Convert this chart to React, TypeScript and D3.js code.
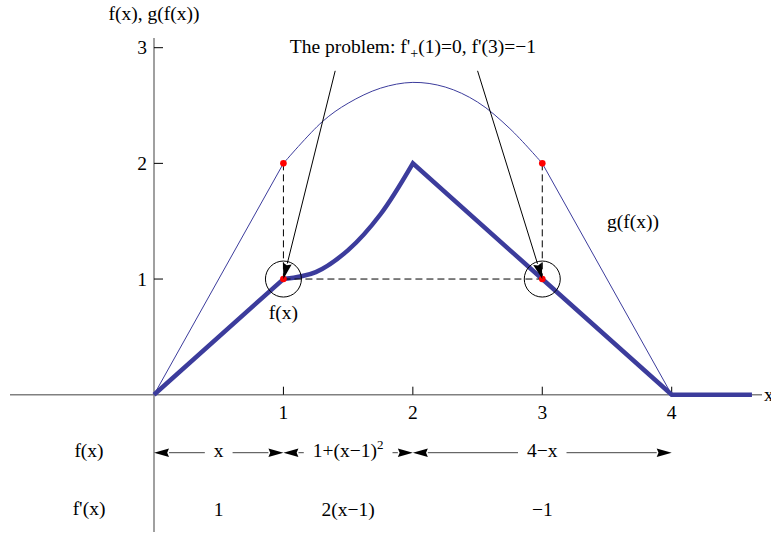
import React, { useEffect, useRef } from 'react';
import * as d3 from 'd3';

// f(x): piecewise
const fRiseX = [0, 1];
const fRiseY = [0, 1];
const fCurveX = [1, 1.25, 1.5, 1.75, 2];
const fCurveY = [1, 1.06, 1.25, 1.56, 2];
const fFallX = [2, 3, 4, 4.62];
const fFallY = [2, 1, 0, 0];

// g(f(x))
const gRiseX = [0, 1];
const gRiseY = [0, 2];
const gArcX = [1, 1.3, 1.5, 1.75, 2, 2.25, 2.5, 2.75, 3];
const gArcY = [2, 2.36, 2.52, 2.65, 2.7, 2.66, 2.53, 2.3, 2];
const gFallX = [3, 4];
const gFallY = [2, 0];

// red points and the dashed guides
const markX = [1, 1, 3, 3];
const markY = [2, 1, 2, 1];

// the two problem points and where the arrows start
const problemX = [1, 3];
const problemY = [1, 1];
const arrowFromX = [1.4, 2.5];
const arrowFromY = [2.8, 2.8];

const xTicks = [1, 2, 3, 4];
const yTicks = [1, 2, 3];

// table under the axis
const pieceBreaks = [0, 1, 2, 4];
const pieceFormula = ['x', '1+(x\u22121)', '4\u2212x'];
const pieceSup = ['', '2', ''];
const pieceDeriv = ['1', '2(x\u22121)', '\u22121'];

const W = 771, H = 534;
const FONT = '"Liberation Serif", "Times New Roman", serif';
const FS = 19.5;
const BLUE = '#3c3c9c';

const joinPaths = (parts: string[]) =>
    parts.map((p, i) => (i === 0 ? p : p.replace(/^M/, 'L'))).join('');

const App = () => {
    const ref = useRef<SVGSVGElement>(null);

    useEffect(() => {
        const svg = d3.select(ref.current);
        svg.selectAll('*').remove();

        const x = d3.scaleLinear().domain([0, 4]).range([154, 671.7]);
        const y = d3.scaleLinear().domain([0, 3]).range([394.7, 47.7]);

        const zip = (xs: number[], ys: number[]) => xs.map((v, i) => [v, ys[i]] as [number, number]);
        const lin = d3.line<[number, number]>().x(d => x(d[0])).y(d => y(d[1]));
        const smooth = d3.line<[number, number]>().x(d => x(d[0])).y(d => y(d[1])).curve(d3.curveCatmullRom);

        const txt = (g: any) => g.attr('font-family', FONT).attr('font-size', FS).attr('fill', '#000');

        // axes
        svg.append('line').attr('x1', 10).attr('x2', 762).attr('y1', y(0)).attr('y2', y(0))
            .attr('stroke', '#808080').attr('stroke-width', 1.5);
        svg.append('line').attr('x1', x(0)).attr('x2', x(0)).attr('y1', 38).attr('y2', 532)
            .attr('stroke', '#808080').attr('stroke-width', 1.5);

        svg.selectAll('.xt').data(xTicks).enter().append('line')
            .attr('x1', d => x(d)).attr('x2', d => x(d)).attr('y1', y(0)).attr('y2', y(0) - 8)
            .attr('stroke', '#000').attr('stroke-width', 1);
        svg.selectAll('.xl').data(xTicks).enter().append('text')
            .call(txt).attr('x', d => x(d)).attr('y', y(0) + 24).attr('text-anchor', 'middle').text(d => d);

        svg.selectAll('.yt').data(yTicks).enter().append('line')
            .attr('x1', x(0)).attr('x2', x(0) + 9).attr('y1', d => y(d)).attr('y2', d => y(d))
            .attr('stroke', '#000').attr('stroke-width', 1);
        svg.selectAll('.yl').data(yTicks).enter().append('text')
            .call(txt).attr('x', 147).attr('y', d => y(d) + 6.7).attr('text-anchor', 'end').text(d => d);

        svg.append('text').call(txt).attr('x', x(0)).attr('y', 20).attr('text-anchor', 'middle').text('f(x), g(f(x))');
        svg.append('text').call(txt).attr('x', 764).attr('y', y(0) + 6).text('x');

        // g(f(x)) thin curve
        svg.append('path')
            .attr('d', joinPaths([lin(zip(gRiseX, gRiseY))!, smooth(zip(gArcX, gArcY))!, lin(zip(gFallX, gFallY))!]))
            .attr('fill', 'none').attr('stroke', BLUE).attr('stroke-width', 1);

        // f(x) thick curve
        svg.append('path')
            .attr('d', joinPaths([lin(zip(fRiseX, fRiseY))!, smooth(zip(fCurveX, fCurveY))!, lin(zip(fFallX, fFallY))!]))
            .attr('fill', 'none').attr('stroke', BLUE).attr('stroke-width', 4.5).attr('stroke-linejoin', 'miter');

        // dashed guides
        const dash = (x1: number, y1: number, x2: number, y2: number) =>
            svg.append('line').attr('x1', x(x1)).attr('y1', y(y1)).attr('x2', x(x2)).attr('y2', y(y2))
                .attr('stroke', '#000').attr('stroke-width', 1).attr('stroke-dasharray', '7,4');
        dash(markX[0], markY[0], markX[1], markY[1]);
        dash(markX[2], markY[2], markX[3], markY[3]);
        dash(markX[1], markY[1], markX[3], markY[3]);

        // circles around the problem points
        svg.selectAll('.ring').data(problemX).enter().append('circle')
            .attr('cx', d => x(d)).attr('cy', (d, i) => y(problemY[i])).attr('r', 18)
            .attr('fill', 'none').attr('stroke', '#000').attr('stroke-width', 1);

        svg.selectAll('.dot').data(markX).enter().append('circle')
            .attr('cx', d => x(d)).attr('cy', (d, i) => y(markY[i])).attr('r', 3.3).attr('fill', '#ff0000');

        // arrow helper: line plus filled head at (x2,y2)
        const arrow = (x1: number, y1: number, x2: number, y2: number, len: number, half: number, stroke: string) => {
            const a = Math.atan2(y2 - y1, x2 - x1);
            const bx = x2 - len * Math.cos(a), by = y2 - len * Math.sin(a);
            svg.append('line').attr('x1', x1).attr('y1', y1).attr('x2', bx).attr('y2', by)
                .attr('stroke', stroke).attr('stroke-width', 1);
            const px = -Math.sin(a) * half, py = Math.cos(a) * half;
            const nx = x2 - len * 0.88 * Math.cos(a), ny = y2 - len * 0.88 * Math.sin(a);
            svg.append('path')
                .attr('d', `M${x2},${y2}L${bx + px},${by + py}L${nx},${ny}L${bx - px},${by - py}Z`)
                .attr('fill', '#000');
        };

        problemX.forEach((px, i) =>
            arrow(x(arrowFromX[i]), y(arrowFromY[i]), x(px), y(problemY[i]), 16, 4.5, '#000'));

        // title
        const title = svg.append('text').call(txt).attr('x', x(2)).attr('y', 53).attr('text-anchor', 'middle');
        title.append('tspan').text("The problem: f'");
        title.append('tspan').attr('dy', 5).attr('font-size', 14).text('+');
        title.append('tspan').attr('dy', -5).text("(1)=0, f'(3)=\u22121");

        svg.append('text').call(txt).attr('x', x(1)).attr('y', 319).attr('text-anchor', 'middle').text('f(x)');
        svg.append('text').call(txt).attr('x', 607).attr('y', 228).text('g(f(x))');

        // table rows
        const rowY = 452.7;
        svg.append('text').call(txt).attr('x', 89).attr('y', 457).attr('text-anchor', 'middle').text('f(x)');
        svg.append('text').call(txt).attr('x', 89).attr('y', 515).attr('text-anchor', 'middle').text("f'(x)");

        pieceFormula.forEach((f, i) => {
            const a = x(pieceBreaks[i]), b = x(pieceBreaks[i + 1]);
            const mid = (a + b) / 2;
            const t = svg.append('text').call(txt).attr('x', mid).attr('y', 457).attr('text-anchor', 'middle');
            t.append('tspan').text(f);
            if (pieceSup[i]) t.append('tspan').attr('dy', -8).attr('font-size', 13).text(pieceSup[i]);
            const w = (t.node() as SVGTextElement).getComputedTextLength();
            const pad = 9;
            arrow(mid - w / 2 - pad, rowY, a, rowY, 15, 4.3, '#444');
            arrow(mid + w / 2 + pad, rowY, b, rowY, 15, 4.3, '#444');

            svg.append('text').call(txt).attr('x', mid).attr('y', 516).attr('text-anchor', 'middle').text(pieceDeriv[i]);
        });
    }, []);

    return (
        <svg ref={ref} width={W} height={H}
            style={{ position: 'absolute', left: 0, top: 0, background: '#fff' }} />
    );
};

export default App;
